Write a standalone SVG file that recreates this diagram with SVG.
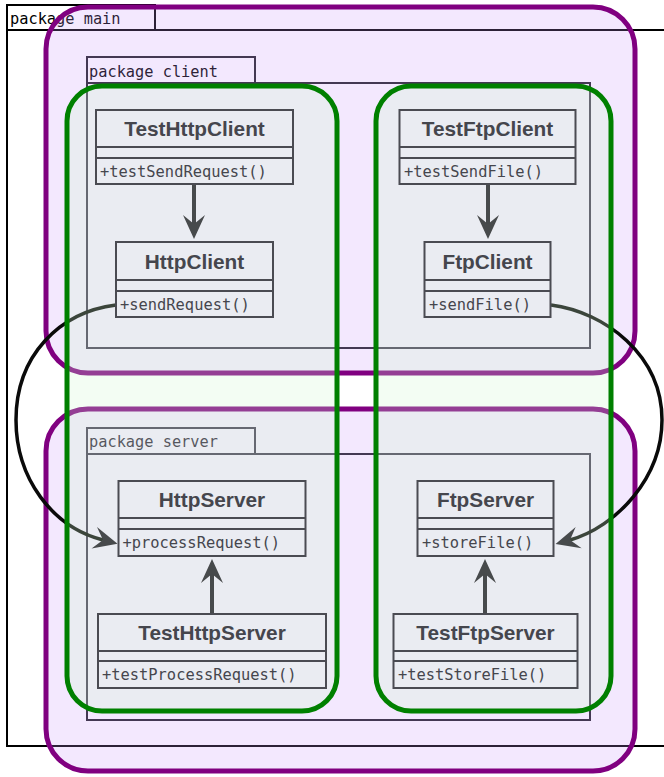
<svg xmlns="http://www.w3.org/2000/svg" width="664" height="777" viewBox="0 0 664 777">
<style>
.pkg{fill:none;stroke:#000;stroke-width:2}
.pkgs{fill:none;stroke:#1e1e24;stroke-width:2}
.pkgt{font-family:"DejaVu Sans Mono","Liberation Mono",monospace;font-size:15.3px;fill:#000}
.grp{fill:rgb(200,150,250);fill-opacity:0.22;stroke:#800080;stroke-width:5}
.lane{fill:rgb(207,247,207);fill-opacity:0.25;stroke:#008000;stroke-width:5}
.cls{fill:none;stroke:#4a4b52;stroke-width:2}
.title{font-family:"Liberation Sans",Arial,sans-serif;font-weight:bold;font-size:20.8px;fill:#45464d;text-anchor:middle}
.meth{font-family:"DejaVu Sans Mono","Liberation Mono",monospace;font-size:15.4px;fill:#45464d}
.curve{fill:none;stroke:#0a0a0a;stroke-width:3.5}
.dep{fill:none;stroke:#1a1020;stroke-width:4}
</style>
<defs>
<marker id="arrow" viewBox="-26 -13 28 26" refX="-15" refY="0" markerWidth="28" markerHeight="26" markerUnits="userSpaceOnUse" orient="auto">
<path d="M0,0 L-24,-11 L-15,0 L-24,11 Z" fill="#1a1020"/>
</marker>
</defs>

<g id="pkg-main">
<rect class="pkg" x="7" y="5" width="148" height="25"/>
<rect class="pkg" x="7" y="30" width="690" height="716"/>
<text class="pkgt" x="10" y="24">package main</text>
</g>
<g id="pkg-client">
<rect class="pkgs" x="87" y="57" width="168" height="26"/>
<rect class="pkgs" x="87" y="83" width="503" height="265"/>
<text class="pkgt" x="89" y="77" fill="#222">package client</text>
</g>
<g id="pkg-server">
<rect class="pkgs" x="87" y="428" width="168" height="26"/>
<rect class="pkgs" x="87" y="454" width="503" height="266"/>
<text class="pkgt" x="89" y="447" fill="#222">package server</text>
</g>

<g id="group-client"><rect class="grp" x="46" y="7" width="589" height="366" rx="42" ry="42"/></g>
<g id="group-server"><rect class="grp" x="46" y="409" width="589" height="362" rx="42" ry="42"/></g>

<g id="connectors">
<path class="curve" d="M116,305 C60,312 16,355 16,420 C16,478 52,527 103,540" marker-end="url(#arrow)"/>
<path class="curve" d="M551,305 C605,312 662,355 662,420 C662,478 616,527 570,540" marker-end="url(#arrow)"/>
<path class="dep" d="M194,185 L194,224" marker-end="url(#arrow)"/>
<path class="dep" d="M488,185 L488,224" marker-end="url(#arrow)"/>
<path class="dep" d="M212,614 L212,574" marker-end="url(#arrow)"/>
<path class="dep" d="M485,614 L485,574" marker-end="url(#arrow)"/>
</g>

<g id="lane-http"><rect class="lane" x="67" y="86" width="270" height="625" rx="35" ry="35"/></g>
<g id="lane-ftp"><rect class="lane" x="376" y="86" width="235" height="625" rx="35" ry="35"/></g>

<g id="TestHttpClient">
<rect class="cls" x="96" y="110" width="197" height="74"/>
<line class="cls" x1="96" y1="147" x2="293" y2="147"/>
<line class="cls" x1="96" y1="158" x2="293" y2="158"/>
<text class="title" x="194.5" y="136">TestHttpClient</text>
<text class="meth" x="100" y="176.5">+testSendRequest()</text>
</g>
<g id="HttpClient">
<rect class="cls" x="116" y="242" width="157" height="75"/>
<line class="cls" x1="116" y1="280" x2="273" y2="280"/>
<line class="cls" x1="116" y1="291" x2="273" y2="291"/>
<text class="title" x="194.5" y="268.5">HttpClient</text>
<text class="meth" x="120" y="309.5">+sendRequest()</text>
</g>
<g id="TestFtpClient">
<rect class="cls" x="399.5" y="110" width="176" height="74"/>
<line class="cls" x1="399.5" y1="147" x2="575.5" y2="147"/>
<line class="cls" x1="399.5" y1="158" x2="575.5" y2="158"/>
<text class="title" x="487.5" y="136">TestFtpClient</text>
<text class="meth" x="404" y="176.5">+testSendFile()</text>
</g>
<g id="FtpClient">
<rect class="cls" x="424.5" y="242" width="126" height="75"/>
<line class="cls" x1="424.5" y1="280" x2="550.5" y2="280"/>
<line class="cls" x1="424.5" y1="291" x2="550.5" y2="291"/>
<text class="title" x="487.5" y="268.5">FtpClient</text>
<text class="meth" x="429" y="309.5">+sendFile()</text>
</g>
<g id="HttpServer">
<rect class="cls" x="118.5" y="481" width="187" height="75"/>
<line class="cls" x1="118.5" y1="518" x2="305.5" y2="518"/>
<line class="cls" x1="118.5" y1="529" x2="305.5" y2="529"/>
<text class="title" x="212" y="507">HttpServer</text>
<text class="meth" x="122.5" y="548">+processRequest()</text>
</g>
<g id="TestHttpServer">
<rect class="cls" x="98" y="614" width="228" height="74"/>
<line class="cls" x1="98" y1="651" x2="326" y2="651"/>
<line class="cls" x1="98" y1="661" x2="326" y2="661"/>
<text class="title" x="212" y="640">TestHttpServer</text>
<text class="meth" x="102" y="680">+testProcessRequest()</text>
</g>
<g id="FtpServer">
<rect class="cls" x="417.5" y="481" width="136" height="75"/>
<line class="cls" x1="417.5" y1="518" x2="553.5" y2="518"/>
<line class="cls" x1="417.5" y1="529" x2="553.5" y2="529"/>
<text class="title" x="485.5" y="507">FtpServer</text>
<text class="meth" x="422" y="548">+storeFile()</text>
</g>
<g id="TestFtpServer">
<rect class="cls" x="393.5" y="614" width="184" height="74"/>
<line class="cls" x1="393.5" y1="651" x2="577.5" y2="651"/>
<line class="cls" x1="393.5" y1="661" x2="577.5" y2="661"/>
<text class="title" x="485.5" y="640">TestFtpServer</text>
<text class="meth" x="398" y="680">+testStoreFile()</text>
</g>
</svg>
